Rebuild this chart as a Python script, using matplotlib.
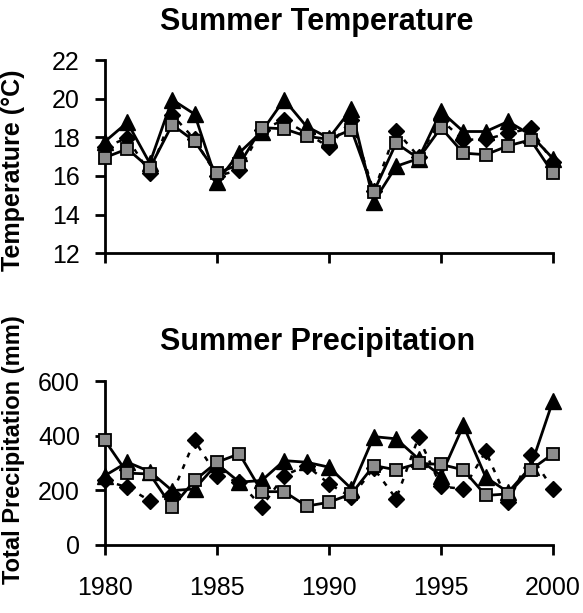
import matplotlib
matplotlib.use("Agg")
import matplotlib.pyplot as plt

plt.rcParams["font.family"] = ["Liberation Sans", "DejaVu Sans"]

YEARS = list(range(1980, 2001))

# summer temperature (deg C), three series
TEMP_TRI = [17.78, 18.77, 16.66, 19.95, 19.2, 15.7, 17.2, 18.3, 19.95, 18.56, 17.96,
            19.46, 14.67, 16.5, 16.9, 19.34, 18.3, 18.3, 18.82, 18.13, 16.9]
TEMP_DIA = [17.5, 17.96, 16.14, 19.17, 17.9, 16.0, 16.3, 18.4, 18.9, 18.2, 17.5,
            18.9, 15.2, 18.34, 17.0, 18.9, 17.87, 17.9, 18.2, 18.47, 16.7]
TEMP_SQ = [16.95, 17.4, 16.4, 18.65, 17.8, 16.14, 16.6, 18.5, 18.44, 18.05, 17.9,
           18.4, 15.18, 17.7, 16.9, 18.5, 17.18, 17.1, 17.56, 17.87, 16.14]

# summer total precipitation (mm)
PREC_TRI = [253, 302, 268, 198, 204, 296, 229, 235, 308, 302, 284,
            205, 396, 388, 314, 253, 437, 247, 192, 284, 528]
PREC_DIA = [235, 210, 161, 186, 382, 253, 229, 139, 253, 290, 223,
            174, 280, 168, 394, 213, 204, 342, 155, 327, 204]
PREC_SQ = [382, 262, 259, 137, 235, 302, 333, 194, 194, 141, 155,
           186, 290, 274, 298, 294, 274, 180, 186, 274, 333]

X_TICKS = [1980, 1985, 1990, 1995, 2000]
TEMP_TICKS = [12, 14, 16, 18, 20, 22]
PREC_TICKS = [0, 200, 400, 600]

SQ_GRAY = "#8c8c8c"


def draw_series(ax, dia, tri, sq):
    ax.plot(YEARS, dia, color="black", linestyle=(0, (2, 3)), linewidth=1.8,
            marker="D", markersize=8, markerfacecolor="black", markeredgecolor="black",
            zorder=2, clip_on=False)
    ax.plot(YEARS, tri, color="black", linewidth=2, marker="^", markersize=11,
            markerfacecolor="black", markeredgecolor="black", zorder=3, clip_on=False)
    ax.plot(YEARS, sq, color="black", linewidth=2, marker="s", markersize=9,
            markerfacecolor=SQ_GRAY, markeredgecolor="black", markeredgewidth=1.3,
            zorder=4, clip_on=False)


def style_axes(ax):
    for side in ("top", "right"):
        ax.spines[side].set_visible(False)
    for side in ("left", "bottom"):
        ax.spines[side].set_linewidth(2)
    ax.tick_params(direction="out", width=2, length=7, labelsize=18)
    ax.tick_params(axis="y", pad=11)
    ax.tick_params(axis="x", pad=16)
    ax.set_xlim(1980, 2000)
    ax.set_xticks(X_TICKS)


fig = plt.figure(figsize=(5.83, 6.13), dpi=100)

ax1 = fig.add_axes([0.180, 0.587, 0.7685, 0.315])
draw_series(ax1, TEMP_DIA, TEMP_TRI, TEMP_SQ)
style_axes(ax1)
ax1.set_ylim(12, 22)
ax1.set_yticks(TEMP_TICKS)
ax1.tick_params(axis="x", labelbottom=False)
ax1.set_ylabel("Temperature (°C)", fontsize=18, fontweight="bold")
ax1.yaxis.set_label_coords(-0.179, 0.43)

ax2 = fig.add_axes([0.180, 0.1117, 0.7685, 0.2667])
draw_series(ax2, PREC_DIA, PREC_TRI, PREC_SQ)
style_axes(ax2)
ax2.set_ylim(0, 600)
ax2.set_yticks(PREC_TICKS)
ax2.set_ylabel("Total Precipitation (mm)", fontsize=17, fontweight="bold")
ax2.yaxis.set_label_coords(-0.179, 0.58)

fig.text(0.544, 0.964, "Summer Temperature", fontsize=22, fontweight="bold",
         ha="center", va="center")
fig.text(0.544, 0.442, "Summer Precipitation", fontsize=22, fontweight="bold",
         ha="center", va="center")

fig.savefig("out.png", dpi=100)
